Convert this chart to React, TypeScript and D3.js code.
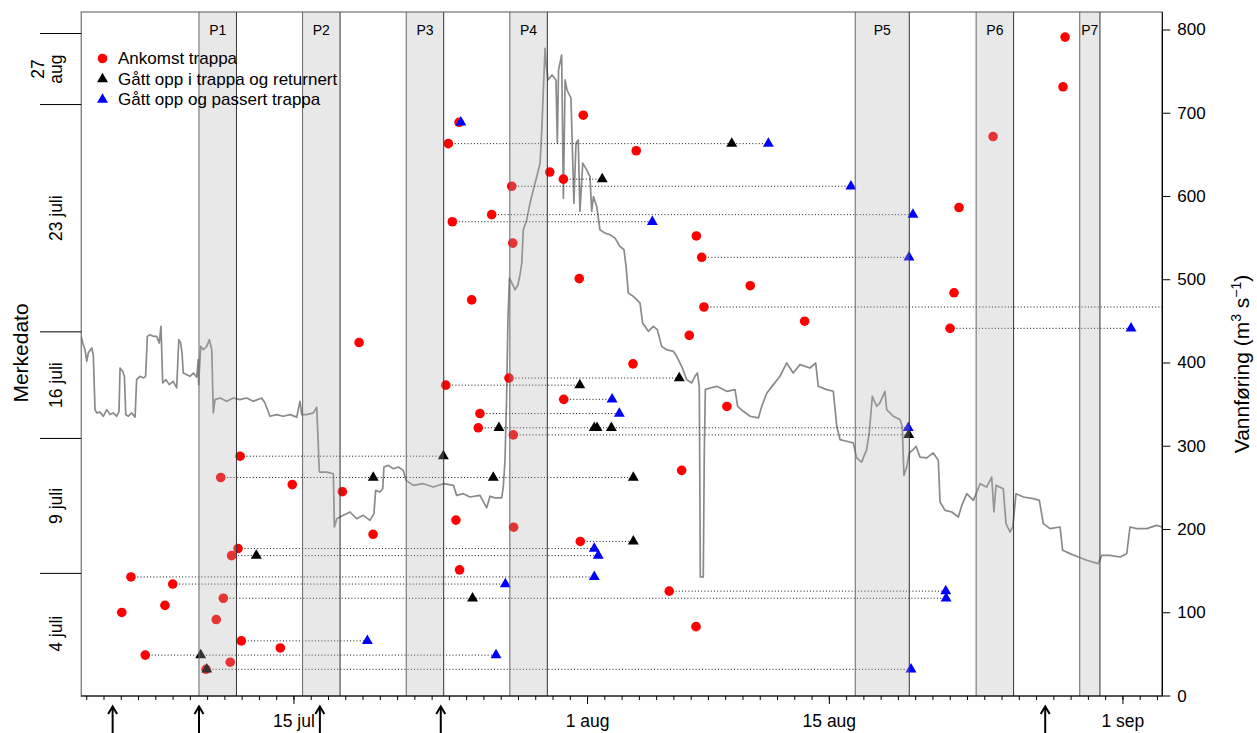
import * as d3 from "d3";

// days are counted from 1 July: 15 = 15 jul, 32 = 1 aug, 63 = 1 sep
const dayToDate = (d: number) => new Date(Date.UTC(2023, 6, 1) + (d - 1) * 864e5);

const dayExtent = [2.68, 65.28];
const flowMax = 821.6;
const flowTicks = [0, 100, 200, 300, 400, 500, 600, 700, 800];
const dateTicks = [15, 32, 46, 63];
const dateTickLabels = ["15 jul", "1 aug", "15 aug", "1 sep"];

// tagging days (arrows under the axis)
const tagDays = [4.5, 9.5, 16.5, 23.5, 58.5];
// fish are stacked by rank, grouped by tagging date
const rankExtent = [-2.76, 93.53];
const tagEdges = [-2.5, 14.5, 33.5, 48.5, 80.5, 90.5];
const tagLabels = ["4 juli", "9 juli", "16 juli", "23 juli", "27\naug"];

const periodNames = ["P1", "P2", "P3", "P4", "P5", "P6", "P7"];
const periodStart = [9.5, 15.5, 21.5, 27.5, 47.5, 54.5, 60.5];
const periodEnd = [11.67, 17.67, 23.67, 29.67, 50.63, 56.67, 61.67];

// Vannføring, [day, m3/s]
const flow: [number, number][] = [
  [2.68, 432], [2.77, 424], [2.9, 416], [3.0, 402], [3.09, 412], [3.29, 418], [3.38, 410],
  [3.48, 344], [3.58, 340], [3.77, 341], [3.96, 336], [4.16, 344], [4.35, 338], [4.54, 340],
  [4.74, 336], [4.87, 342], [4.93, 394], [5.08, 390], [5.18, 384], [5.26, 338], [5.41, 336],
  [5.6, 340], [5.8, 335], [5.89, 380], [6.08, 384], [6.28, 382], [6.41, 384], [6.51, 432],
  [6.66, 434], [6.85, 432], [7.05, 432], [7.2, 424], [7.3, 444], [7.4, 376], [7.59, 380],
  [7.78, 374], [8.01, 378], [8.21, 370], [8.33, 428], [8.44, 424], [8.52, 412], [8.59, 388],
  [8.79, 386], [8.98, 384], [9.17, 388], [9.37, 383], [9.46, 404], [9.48, 374], [9.6, 420],
  [9.75, 416], [9.95, 420], [10.1, 428], [10.24, 416], [10.33, 340], [10.43, 356], [10.72, 358],
  [11.1, 354], [11.49, 358], [11.87, 356], [12.26, 358], [12.65, 354], [13.13, 358], [13.32, 352],
  [13.61, 336], [14.0, 338], [14.38, 336], [14.77, 338], [15.16, 335], [15.35, 354], [15.45, 338],
  [15.74, 338], [16.12, 340], [16.32, 347], [16.47, 269], [16.9, 269], [17.28, 267], [17.34, 203],
  [17.48, 213], [17.86, 217], [18.24, 221], [18.63, 213], [19.01, 217], [19.4, 211], [19.63, 219],
  [19.73, 247], [19.98, 245], [20.14, 249], [20.21, 275], [20.46, 277], [20.75, 273], [21.04, 275],
  [21.33, 271], [21.49, 259], [21.91, 253], [22.49, 255], [23.07, 251], [23.65, 255], [24.23, 253],
  [24.42, 241], [24.81, 243], [25.19, 239], [25.77, 241], [26.16, 226], [26.35, 240], [26.64, 238],
  [27.03, 238], [27.12, 251], [27.22, 283], [27.31, 356], [27.39, 452], [27.48, 502], [27.62, 496],
  [27.8, 488], [27.97, 494], [28.09, 506], [28.19, 520], [28.28, 560], [28.48, 572], [28.67, 592],
  [28.86, 608], [29.06, 624], [29.25, 640], [29.35, 680], [29.44, 728], [29.54, 778], [29.6, 760],
  [29.71, 740], [29.94, 746], [30.17, 740], [30.25, 664], [30.32, 752], [30.5, 770], [30.6, 598],
  [30.7, 740], [30.81, 728], [31.04, 718], [31.21, 592], [31.33, 664], [31.46, 668], [31.56, 582],
  [31.72, 640], [31.95, 632], [32.14, 624], [32.24, 582], [32.34, 600], [32.53, 588], [32.72, 560],
  [33.01, 556], [33.3, 554], [33.59, 550], [33.88, 540], [34.11, 536], [34.23, 516], [34.36, 484],
  [34.65, 480], [35.04, 472], [35.19, 448], [35.52, 438], [35.81, 444], [36.04, 440], [36.29, 420],
  [36.58, 416], [36.96, 414], [37.16, 408], [37.45, 396], [37.74, 380], [38.03, 376], [38.22, 384],
  [38.36, 388], [38.47, 372], [38.53, 143], [38.7, 143], [38.76, 292], [38.82, 368], [39.09, 370],
  [39.48, 372], [40.06, 366], [40.54, 368], [40.69, 348], [41.02, 342], [41.41, 336], [41.89, 334],
  [42.09, 348], [42.38, 364], [42.76, 374], [43.14, 384], [43.53, 400], [43.91, 388], [44.3, 398],
  [44.88, 394], [45.21, 400], [45.36, 372], [45.85, 368], [46.23, 366], [46.43, 324], [46.62, 308],
  [47.0, 306], [47.39, 304], [47.58, 286], [47.87, 281], [48.16, 296], [48.31, 316], [48.49, 360],
  [48.74, 348], [48.93, 352], [49.22, 366], [49.32, 344], [49.7, 336], [50.09, 332], [50.22, 324],
  [50.32, 265], [50.48, 275], [50.63, 292], [50.86, 296], [51.02, 300], [51.25, 287], [51.64, 286],
  [52.02, 292], [52.31, 283], [52.41, 233], [52.7, 223], [53.09, 221], [53.47, 215], [53.67, 229],
  [53.96, 243], [54.34, 235], [54.73, 255], [55.11, 251], [55.4, 263], [55.53, 221], [55.65, 253],
  [56.07, 249], [56.23, 207], [56.46, 197], [56.62, 203], [56.81, 243], [57.24, 239], [57.81, 237],
  [58.16, 235], [58.39, 207], [58.78, 201], [59.36, 203], [59.51, 175], [59.94, 171], [60.42, 167],
  [60.9, 163], [61.57, 159], [61.77, 169], [62.25, 169], [62.83, 167], [63.22, 171], [63.41, 203],
  [63.8, 201], [64.38, 201], [64.95, 205], [65.28, 203],
];

// [rank, day] for each fish
const arrivals: [number, number][] = [
  [1, 9.91], [2, 11.31], [3, 6.39], [4, 14.21], [5, 11.95], [7, 38.28], [8, 10.5], [9, 5.03],
  [10, 7.53], [11, 10.91], [12, 36.73], [13, 7.98], [14, 5.56], [15, 24.59], [17, 11.39],
  [18, 11.76], [19, 31.58], [20, 19.58], [21, 27.72], [22, 24.38], [26, 17.8], [27, 14.9],
  [28, 10.76], [29, 37.45], [31, 11.88], [34, 27.7], [35, 25.67], [37, 25.77], [38, 40.07],
  [39, 30.62], [41, 23.79], [42, 27.45], [44, 34.63], [47, 18.77], [48, 37.89], [49, 52.99],
  [50, 44.57], [52, 38.74], [53, 25.29], [54, 53.22], [55, 41.42], [56, 31.52], [59, 38.61],
  [61, 27.67], [62, 38.3], [64, 24.17], [65, 26.45], [66, 53.51], [69, 27.61], [70, 30.6],
  [71, 29.81], [74, 34.82], [75, 23.94], [76, 55.48], [78, 24.56], [79, 31.75], [83, 59.53],
  [90, 59.65],
];
const returned: [number, number][] = [
  [1, 9.95], [3, 9.6], [11, 25.34], [17, 12.82], [19, 34.65], [28, 19.59], [28, 26.54],
  [28, 34.65], [31, 23.65], [34, 50.6], [35, 26.87], [35, 32.39], [35, 32.55], [35, 33.38],
  [41, 31.55], [42, 37.31], [70, 32.85], [75, 40.35],
];
const passed: [number, number][] = [
  [1, 50.73], [3, 26.7], [5, 19.25], [11, 52.76], [12, 52.74], [13, 27.24], [14, 32.39],
  [17, 32.62], [18, 32.39], [35, 50.57], [37, 33.84], [39, 33.42], [49, 63.47], [59, 50.61],
  [64, 35.75], [65, 50.84], [69, 47.25], [75, 42.47], [78, 24.66],
];
// still recorded after the end of the chart
const openEnded = [52];

const legendLabels = ["Ankomst trappa", "Gått opp i trappa og returnert", "Gått opp og passert trappa"];
const legendColors = ["#ff0000", "#000000", "#0000ff"];

const FONT = "'Liberation Sans', Arial, Helvetica, sans-serif";

export default function App() {
  const W = 1257;
  const H = 733;
  const left = 81.2;
  const right = 1162.3;
  const top = 12;
  const bottom = 696;

  const x = d3.scaleUtc().domain(dayExtent.map(dayToDate)).range([left, right]);
  const xd = (d: number) => x(dayToDate(d));
  const yFlow = d3.scaleLinear().domain([0, flowMax]).range([bottom, top]);
  const yRank = d3.scaleLinear().domain(rankExtent).range([bottom, top]);

  const line = d3
    .line<[number, number]>()
    .x((d) => xd(d[0]))
    .y((d) => yFlow(d[1]));

  const triangle = d3.symbol().type(d3.symbolTriangle).size(52)()!;

  const minorTicks = d3.utcDay.range(dayToDate(3), dayToDate(65.5));

  const segments = arrivals.map(([rank, day]) => {
    const events = [...returned, ...passed].filter((e) => e[0] === rank).map((e) => e[1]);
    let end = d3.max(events) ?? day;
    if (openEnded.includes(rank)) end = dayExtent[1] + 1;
    return { rank, from: day, to: end };
  });

  return (
    <svg
      width={W}
      height={H}
      style={{ position: "absolute", left: 0, top: 0, fontFamily: FONT }}
    >
      <defs>
        <clipPath id="plot">
          <rect x={left} y={top} width={right - left} height={bottom - top} />
        </clipPath>
      </defs>

      <g clipPath="url(#plot)">
        {/* discharge */}
        <path d={line(flow)!} fill="none" stroke="#8a8a8a" strokeWidth={1.7} strokeLinejoin="round" />

        {/* arrival -> last detection */}
        {segments
          .filter((s) => s.to > s.from)
          .map((s, i) => (
            <line
              key={i}
              x1={xd(s.from)}
              x2={xd(s.to)}
              y1={yRank(s.rank)}
              y2={yRank(s.rank)}
              stroke="#111"
              strokeWidth={1}
              strokeDasharray="1,2.2"
            />
          ))}

        {arrivals.map(([rank, day], i) => (
          <circle key={i} cx={xd(day)} cy={yRank(rank)} r={4.8} fill="#ff0000" />
        ))}
        {returned.map(([rank, day], i) => (
          <path key={i} d={triangle} transform={`translate(${xd(day)},${yRank(rank)})`} fill="#000" />
        ))}
        {passed.map(([rank, day], i) => (
          <path key={i} d={triangle} transform={`translate(${xd(day)},${yRank(rank)})`} fill="#0000ff" />
        ))}

        {/* periods */}
        {periodNames.map((p, i) => (
          <g key={p}>
            <rect
              x={xd(periodStart[i])}
              y={top}
              width={xd(periodEnd[i]) - xd(periodStart[i])}
              height={bottom - top}
              fill="rgb(176,176,176)"
              fillOpacity={0.29}
            />
            <line x1={xd(periodStart[i])} x2={xd(periodStart[i])} y1={top} y2={bottom} stroke="#666" />
            <line x1={xd(periodEnd[i])} x2={xd(periodEnd[i])} y1={top} y2={bottom} stroke="#333" />
            <text
              x={(xd(periodStart[i]) + xd(periodEnd[i])) / 2}
              y={35}
              textAnchor="middle"
              fontSize={14}
            >
              {p}
            </text>
          </g>
        ))}
      </g>

      {/* frame */}
      <rect x={left} y={top} width={right - left} height={bottom - top} fill="none" stroke="#555" />
      <line x1={left} x2={right} y1={bottom} y2={bottom} stroke="#000" />
      <line x1={right} x2={right} y1={top} y2={bottom} stroke="#000" />

      {/* x axis */}
      {minorTicks.map((t, i) => (
        <line key={i} x1={x(t)} x2={x(t)} y1={bottom} y2={bottom + 4} stroke="#000" />
      ))}
      {dateTicks.map((d, i) => (
        <g key={d}>
          <line x1={xd(d)} x2={xd(d)} y1={bottom} y2={bottom + 8} stroke="#000" />
          <text x={xd(d)} y={727} textAnchor="middle" fontSize={17.5}>
            {dateTickLabels[i]}
          </text>
        </g>
      ))}
      {tagDays.map((d) => (
        <g key={d} stroke="#000" strokeWidth={2} fill="none">
          <line x1={xd(d)} x2={xd(d)} y1={707} y2={740} />
          <polyline points={`${xd(d) - 4.5},${714} ${xd(d)},${706.5} ${xd(d) + 4.5},${714}`} />
        </g>
      ))}

      {/* right axis: discharge */}
      <line x1={right} x2={right} y1={yFlow(0)} y2={yFlow(800)} stroke="#000" />
      {flowTicks.map((v) => (
        <g key={v}>
          <line x1={right} x2={right + 8} y1={yFlow(v)} y2={yFlow(v)} stroke="#000" />
          <text x={right + 15} y={yFlow(v)} dominantBaseline="central" fontSize={17}>
            {v}
          </text>
        </g>
      ))}
      <text transform={`translate(1249,364) rotate(-90)`} textAnchor="middle" fontSize={21}>
        Vannføring (m
        <tspan dy={-8} fontSize={14}>3</tspan>
        <tspan dy={8}> s</tspan>
        <tspan dy={-8} fontSize={14}>−1</tspan>
        <tspan dy={8}>)</tspan>
      </text>

      {/* left axis: tagging date */}
      {tagEdges.slice(1).map((r) => (
        <line key={r} x1={40} x2={left} y1={yRank(r)} y2={yRank(r)} stroke="#000" />
      ))}
      {tagLabels.map((lab, i) => {
        const mid = (tagEdges[i] + tagEdges[i + 1]) / 2;
        const rows = lab.split("\n");
        return rows.map((row, j) => (
          <text
            key={`${i}-${j}`}
            transform={`translate(${62 - (rows.length - 1 - j) * 17.7},${yRank(mid)}) rotate(-90)`}
            textAnchor="middle"
            fontSize={17.5}
          >
            {row}
          </text>
        ));
      })}
      <text transform={`translate(28,353) rotate(-90)`} textAnchor="middle" fontSize={21}>
        Merkedato
      </text>

      {/* legend */}
      {legendLabels.map((lab, i) => (
        <g key={lab} transform={`translate(102.5,${58.5 + i * 20.5})`}>
          {i === 0 ? (
            <circle r={4.8} fill={legendColors[i]} />
          ) : (
            <path d={triangle} fill={legendColors[i]} />
          )}
          <text x={15.5} dominantBaseline="central" fontSize={17}>
            {lab}
          </text>
        </g>
      ))}
    </svg>
  );
}
